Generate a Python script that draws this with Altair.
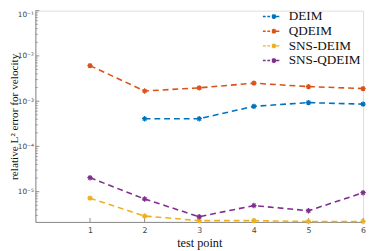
import altair as alt
import pandas as pd

test_points = [1, 2, 3, 4, 5, 6]
deim = [None, 4.1e-4, 4.1e-4, 7.7e-4, 9.3e-4, 8.6e-4]
qdeim = [6.1e-3, 1.68e-3, 1.97e-3, 2.5e-3, 2.1e-3, 1.9e-3]
sns_deim = [7.2e-6, 2.9e-6, 2.3e-6, 2.3e-6, 2.2e-6, 2.2e-6]
sns_qdeim = [2.04e-5, 6.9e-6, 2.8e-6, 4.95e-6, 3.8e-6, 9.5e-6]

methods = ["DEIM", "QDEIM", "SNS-DEIM", "SNS-QDEIM"]
colors = ["#0072BD", "#D95319", "#EDB120", "#7E2F8E"]
series = [deim, qdeim, sns_deim, sns_qdeim]

major_ticks = [1e-5, 1e-4, 1e-3, 1e-2, 1e-1]
minor_ticks = [m * 10.0 ** e for e in range(-6, -1) for m in range(2, 10) if m * 10.0 ** e >= 2.2e-6]
x_ticks = [1, 2, 3, 4, 5, 6]

rows = []
for name, vals in zip(methods, series):
    for x, v in zip(test_points, vals):
        if v is not None:
            rows.append({"point": x, "error": v, "method": name})
df = pd.DataFrame(rows)

W, H = 335, 216
ydom = [2.15e-6, 0.1]
axis_col = "#8a8a8a"

xscale = alt.Scale(domain=[0, 6], nice=False, zero=False)
yscale = alt.Scale(type="log", domain=ydom, nice=False)
cscale = alt.Scale(domain=methods, range=colors)

asterisk = "M-1,0L1,0M0,-1L0,1M-0.7,-0.7L0.7,0.7M-0.7,0.7L0.7,-0.7"
legend_sym = ("M-1.2,0L-0.8,0M-0.55,0L-0.15,0M0.1,0L1.2,0"
              "M0.4,-0.35L0.4,0.35M0.15,-0.25L0.65,0.25M0.15,0.25L0.65,-0.25")

label_expr = ("datum.value > 0.05 ? '10⁻¹' : datum.value > 0.005 ? '10⁻²' : "
              "datum.value > 0.0005 ? '10⁻³' : datum.value > 0.00005 ? '10⁻⁴' : '10⁻⁵'")

base = alt.Chart(df)

lines = base.mark_line(strokeDash=[6, 4], strokeWidth=1.6).encode(
    x=alt.X("point:Q", scale=xscale,
            axis=alt.Axis(values=x_ticks, format="d", title="test point", grid=False,
                          ticks=False, labelFlush=False,
                          domainColor=axis_col, labelColor="#444", labelFont="DejaVu Sans",
                          labelFontSize=8, labelPadding=5, titleFont="Liberation Serif",
                          titleFontSize=12.5, titleFontWeight="normal", titleColor="#111",
                          titlePadding=2)),
    y=alt.Y("error:Q", scale=yscale,
            axis=alt.Axis(values=major_ticks, labelExpr=label_expr, labelFlush=True,
                          title="relative L² error for velocity", grid=False, ticks=False,
                          domainColor=axis_col, labelColor="#444", labelFont="DejaVu Sans",
                          labelFontSize=7.5, labelPadding=2, titleFont="Liberation Serif",
                          titleFontSize=11.5, titleFontWeight="normal", titleColor="#111",
                          titleX=-27.5, titleBaseline="top")),
    color=alt.Color("method:N", scale=cscale,
                    legend=alt.Legend(title=None, orient="none", legendX=233, legendY=-2,
                                      symbolType=legend_sym, symbolSize=196,
                                      symbolStrokeWidth=1.5, labelFont="Liberation Serif",
                                      labelFontSize=13.5, labelColor="#111", rowPadding=0,
                                      labelOffset=10, padding=0)),
    detail="method:N",
)

points = base.mark_point(shape=asterisk, size=30, filled=False, strokeWidth=1.3,
                         opacity=1).encode(
    x=alt.X("point:Q", scale=xscale),
    y=alt.Y("error:Q", scale=yscale),
    color=alt.Color("method:N", scale=cscale, legend=None),
)

major_df = pd.DataFrame({"v": major_ticks})
minor_df = pd.DataFrame({"v": minor_ticks})
xt_df = pd.DataFrame({"x": x_ticks})

ymajor = alt.Chart(major_df).mark_rule(color=axis_col, strokeWidth=1).encode(
    y=alt.Y("v:Q", scale=yscale), x=alt.value(0), x2=alt.value(4))
yminor = alt.Chart(minor_df).mark_rule(color=axis_col, strokeWidth=0.8).encode(
    y=alt.Y("v:Q", scale=yscale), x=alt.value(0), x2=alt.value(2.5))
xtick = alt.Chart(xt_df).mark_rule(color=axis_col, strokeWidth=1).encode(
    x=alt.X("x:Q", scale=xscale), y=alt.value(H), y2=alt.value(H - 4))

chart = alt.layer(ymajor, yminor, xtick, lines, points).properties(
    width=W, height=H,
    autosize=alt.AutoSizeParams(type="none"),
    padding={"left": 28, "top": 0, "right": 3, "bottom": 27},
).configure_view(stroke=None).configure(background="white")

chart.save("out.html", embed_options={"renderer": "svg", "actions": False})
